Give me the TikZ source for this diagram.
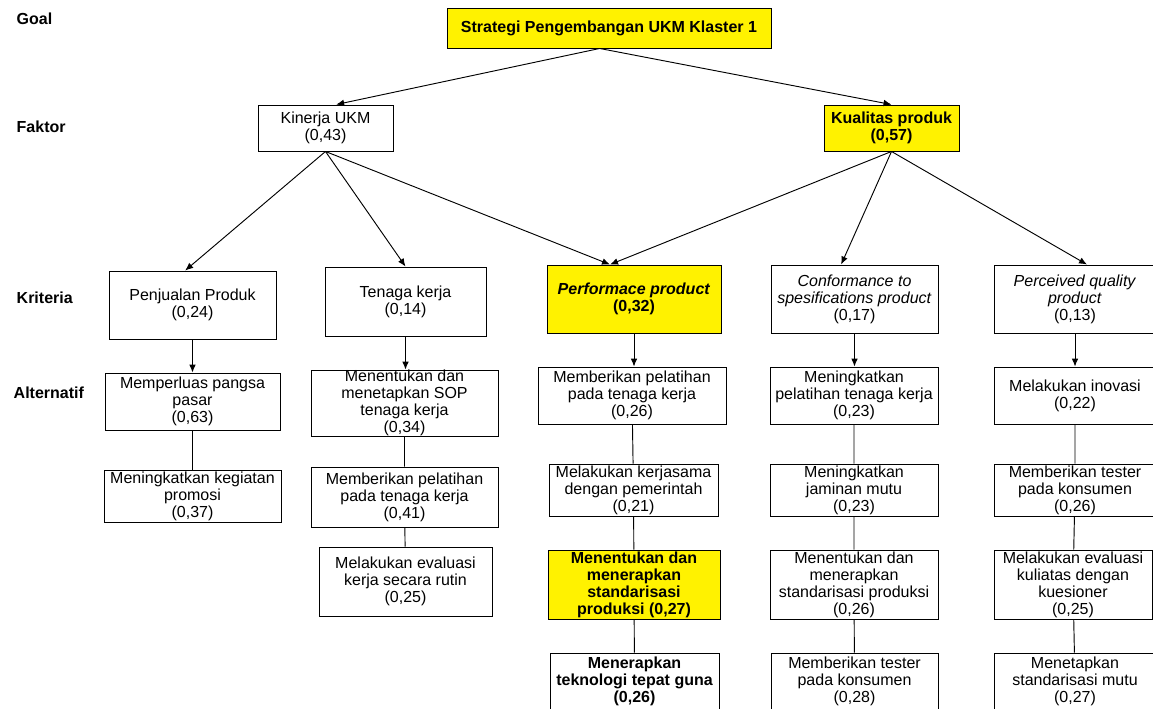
\documentclass[tikz,border=0pt]{standalone}
\usepackage{fontspec}
\setmainfont{Liberation Sans}
\usetikzlibrary{arrows.meta}
\usetikzlibrary{positioning}
\tikzset{
    box/.style={draw, line width=0.7pt, fill=white, align=center, inner sep=0pt,
        font=\fontsize{12}{12.75}\selectfont},
    boldbox/.style={box, font=\fontsize{12}{12.75}\selectfont\bfseries},
    hot/.style={boldbox, fill=yellow},
    sz/.style 2 args={minimum width=#1*0.75pt, minimum height=#2*0.75pt},
    level/.style={anchor=west, font=\fontsize{12}{14}\selectfont\bfseries},
    link/.style={line width=0.7pt},
    arr/.style={link, -{Latex[length=6pt,width=5pt]}}
}

\begin{document}
\begin{tikzpicture}[x=0.75pt, y=-0.75pt]
    \useasboundingbox (0,0) rectangle (1153,708);
    \fill[white] (0,0) rectangle (1153,708);

    \node[level] (lgoal) at (12,19) {Goal};
    \node[level] (lfak) at (12,127) {Faktor};
    \node[level] (lkri) at (12,298) {Kriteria};
    \node[level] (lalt) at (9,393) {Alternatif};

    \node[hot, sz={324}{40}] (goal) at (609,28) {Strategi Pengembangan UKM Klaster 1};

    \node[box, sz={135}{46}] (kinerja) at (325.5,128) {Kinerja UKM\\(0,43)};
    \node[hot, sz={135}{46}] (kualitas) at (891.5,128) {Kualitas produk\\(0,57)};

    \node[box, sz={167}{68}] (jual) at (192.5,305) {Penjualan Produk\\(0,24)};
    \node[box, sz={161}{69}] (tenaga) at (405.5,301.5) {Tenaga kerja\\(0,14)};
    \node[hot, sz={174}{68}] (perf) at (634,299) {\textit{Performace product}\\(0,32)};
    \node[box, sz={167}{68}] (conf) at (854.5,299) {\textit{Conformance to}\\\textit{spesifications product}\\(0,17)};
    \node[box, sz={162}{68}] (perc) at (1075,299) {\textit{Perceived quality}\\\textit{product}\\(0,13)};

    \node[box, sz={175}{57}] (jual1) at (192.5,401.5) {Memperluas pangsa\\pasar\\(0,63)};
    \node[box, sz={177}{52}] (jual2) at (192.5,496) {Meningkatkan kegiatan\\promosi\\(0,37)};

    \node[box, sz={187}{66}] (tk1) at (404.5,403) {Menentukan dan\\menetapkan SOP\\tenaga kerja\\(0,34)};
    \node[box, sz={187}{60}] (tk2) at (404.5,497) {Memberikan pelatihan\\pada tenaga kerja\\(0,41)};
    \node[box, sz={173}{69}] (tk3) at (405.5,581.5) {Melakukan evaluasi\\kerja secara rutin\\(0,25)};

    \node[box, sz={188}{57}] (pf1) at (632,395.5) {Memberikan pelatihan\\pada tenaga kerja\\(0,26)};
    \node[box, sz={169}{52}] (pf2) at (633.5,490) {Melakukan kerjasama\\dengan pemerintah\\(0,21)};
    \node[hot, sz={172}{69}] (pf3) at (634,584.5) {Menentukan dan\\menerapkan\\standarisasi\\produksi (0,27)};
    \node[boldbox, sz={169}{56}] (pf4) at (634.5,681) {Menerapkan\\teknologi tepat guna\\(0,26)};

    \node[box, sz={168}{57}] (cf1) at (854,395.5) {Meningkatkan\\pelatihan tenaga kerja\\(0,23)};
    \node[box, sz={168}{52}] (cf2) at (854,490) {Meningkatkan\\jaminan mutu\\(0,23)};
    \node[box, sz={168}{69}] (cf3) at (854,584.5) {Menentukan dan\\menerapkan\\standarisasi produksi\\(0,26)};
    \node[box, sz={167}{56}] (cf4) at (854.5,681) {Memberikan tester\\pada konsumen\\(0,28)};

    \node[box, sz={162}{57}] (pq1) at (1075,395.5) {Melakukan inovasi\\(0,22)};
    \node[box, sz={162}{52}] (pq2) at (1075,490) {Memberikan tester\\pada konsumen\\(0,26)};
    \node[box, sz={158}{69}] (pq3) at (1073,584.5) {Melakukan evaluasi\\kuliatas dengan\\kuesioner\\(0,25)};
    \node[box, sz={162}{56}] (pq4) at (1075,681) {Menetapkan\\standarisasi mutu\\(0,27)};

    \draw[arr] ([xshift=-7pt]goal.south) -- ([xshift=8pt]kinerja.north);
    \draw[arr] ([xshift=-7pt]goal.south) -- (kualitas.north);

    \draw[arr] (kinerja.south) -- ([xshift=-5.5pt]jual.north);
    \draw[arr] (kinerja.south) -- (tenaga.north);
    \draw[arr] (kinerja.south) -- ([xshift=-18pt]perf.north);
    \draw[arr] (kualitas.south) -- ([xshift=-18pt]perf.north);
    \draw[arr] (kualitas.south) -- ([xshift=-10pt]conf.north);
    \draw[arr] (kualitas.south) -- ([xshift=9pt]perc.north);

    \draw[arr] (jual.south) -- (jual1.north);
    \draw[arr] (tenaga.south) -- (tenaga.south |- tk1.north);
    \draw[arr] (perf.south) -- (perf.south |- pf1.north);
    \draw[arr] (conf.south) -- (conf.south |- cf1.north);
    \draw[arr] (perc.south) -- (perc.south |- pq1.north);

    \draw[link] (jual1) -- (jual2);
    \draw[link] (tk1) -- (tk2) -- (tk3);
    \draw[link] (pf1) -- (pf2) -- (pf3) -- (pf4);
    \draw[link] (cf1) -- (cf2) -- (cf3) -- (cf4);
    \draw[link] (pq1) -- (pq2) -- (pq3) -- (pq4);
\end{tikzpicture}
\end{document}
